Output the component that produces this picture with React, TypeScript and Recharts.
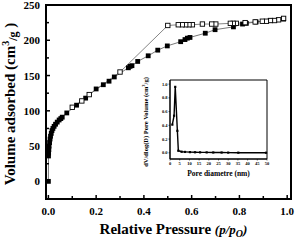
import { LineChart, Line, XAxis, YAxis, ReferenceArea } from 'recharts'

const FONT = '"Liberation Serif", "Times New Roman", serif'

// adsorption branch (filled squares)
const adsP = [0, 0.0005, 0.001, 0.002, 0.003, 0.005, 0.007, 0.009, 0.012, 0.015, 0.019, 0.024, 0.03, 0.037, 0.045, 0.052, 0.058, 0.077, 0.118, 0.156, 0.2, 0.23, 0.254, 0.276, 0.335, 0.342, 0.35, 0.374, 0.418, 0.458, 0.498, 0.554, 0.572, 0.582, 0.593, 0.657, 0.698, 0.775, 0.813, 0.829, 0.87, 0.93, 0.985]
const adsV = [0, 36, 40, 45, 50, 55, 60, 64, 68, 72, 75, 78, 81, 84, 87, 89, 91, 97, 108, 118, 131, 137, 142, 148, 161, 163, 164, 170, 178, 186, 192, 198, 201, 203, 204, 210, 215, 219, 223, 224, 226, 228, 230]

// desorption branch (open squares)
const desP = [0.985, 0.964, 0.947, 0.93, 0.913, 0.896, 0.866, 0.824, 0.787, 0.774, 0.762, 0.701, 0.684, 0.645, 0.603, 0.589, 0.575, 0.561, 0.544, 0.5, 0.3, 0.171, 0.14, 0.1]
const desV = [231, 229, 228, 228, 227, 227, 226, 225, 224, 224, 224, 223, 223, 223, 222, 222, 222, 222, 222, 221, 155, 123, 114, 105]

// inset: pore size distribution
const poreD = [1.2, 2.1, 2.7, 3.8, 4.3, 6, 7.7, 10.3, 12.9, 15.5, 18.9, 22.3, 26.6, 30, 35.2, 49.5]
const poreV = [0.41, 0.54, 0.96, 0.32, 0.03, 0.016, 0.013, 0.01, 0.008, 0.007, 0.006, 0.005, 0.004, 0.003, 0.002, 0.001]

const pressureTicks = [0, 0.1, 0.2, 0.3, 0.4, 0.5, 0.6, 0.7, 0.8, 0.9, 1.0]
const volumeTicks = [0, 25, 50, 75, 100, 125, 150, 175, 200, 225, 250]
const diameterTicks = [0, 5, 10, 15, 20, 25, 30, 35, 40, 45, 50]
const poreTicks = [0, 0.2, 0.4, 0.6, 0.8, 1.0]

const adsData = adsP.map((p, i) => ({ p, v: adsV[i] }))
const desData = desP.map((p, i) => ({ p, v: desV[i] }))
const poreData = poreD.map((d, i) => ({ d, v: poreV[i] }))

const PLOT_LEFT = 46
const PLOT_BOTTOM = 199

const FilledSquare = (props: any) => {
  const { cx, cy } = props
  return <rect x={cx - 2.4} y={cy - 2.4} width={4.8} height={4.8} fill="#000" />
}

const OpenSquare = (props: any) => {
  const { cx, cy } = props
  return <rect x={cx - 2.2} y={cy - 2.2} width={4.4} height={4.4} fill="#fff" stroke="#000" strokeWidth={0.9} />
}

const TinySquare = (props: any) => {
  const { cx, cy } = props
  return <rect x={cx - 1.1} y={cy - 1.1} width={2.2} height={2.2} fill="#000" />
}

const MainXTick = (props: any) => {
  const { x, y, payload } = props
  const v = payload.value
  const major = Math.round(v * 10) % 2 === 0
  return (
    <g>
      <line x1={x} x2={x} y1={PLOT_BOTTOM} y2={PLOT_BOTTOM - (major ? 4 : 3)} stroke="#000" strokeWidth={1.5} />
      {major && (
        <text x={x} y={y} dy={12} textAnchor="middle" fontFamily={FONT} fontWeight="bold" fontSize={11} fill="#000">
          {v.toFixed(1)}
        </text>
      )}
    </g>
  )
}

const MainYTick = (props: any) => {
  const { x, y, payload } = props
  const v = payload.value
  const major = v % 50 === 0
  return (
    <g>
      <line x1={PLOT_LEFT} x2={PLOT_LEFT + (major ? 4 : 3)} y1={y} y2={y} stroke="#000" strokeWidth={1.5} />
      {major && (
        <text x={x} y={y} dy={4} textAnchor="end" fontFamily={FONT} fontWeight="bold" fontSize={11} fill="#000">
          {v}
        </text>
      )}
    </g>
  )
}

const xTitle = (props: any) => {
  const vb = props.viewBox
  return (
    <text x={vb.x + vb.width / 2 + 5} y={vb.y + 35} textAnchor="middle" fontFamily={FONT} fontWeight="bold" fontSize={15} fill="#000">
      Relative Pressure{' '}
      <tspan fontStyle="italic" fontSize={13}>(p/p</tspan>
      <tspan fontStyle="italic" fontSize={10} dy={3}>O</tspan>
      <tspan fontStyle="italic" fontSize={13} dy={-3}>)</tspan>
    </text>
  )
}

const yTitle = () => (
  <text x={15} y={104} transform="rotate(-90 15 104)" textAnchor="middle" fontFamily={FONT} fontWeight="bold" fontSize={15} fill="#000">
    Volume adsorbed (cm
    <tspan fontSize={10} dy={-6}>3</tspan>
    <tspan fontSize={12} dy={8}>/g</tspan>
    <tspan dy={-2}> )</tspan>
  </text>
)

const insetXTitle = (props: any) => {
  const vb = props.viewBox
  return (
    <text x={vb.x + vb.width / 2} y={vb.y + 17} textAnchor="middle" fontFamily={FONT} fontWeight="bold" fontSize={7.5} fill="#000">
      Pore diametre (nm)
    </text>
  )
}

const insetYTitle = () => (
  <text x={8} y={47} transform="rotate(-90 8 47)" textAnchor="middle" fontFamily={FONT} fontWeight="bold" fontSize={6.5} fill="#000">
    dV/dlog(D) Pore Volume (cm
    <tspan fontSize={4.5} dy={-3}>3</tspan>
    <tspan dy={3}>/g)</tspan>
  </text>
)

const smallTick = { fontFamily: FONT, fontWeight: 'bold', fontSize: 4.5, fill: '#000' }

export default function App() {
  return (
    <div style={{ position: 'absolute', left: 0, top: 0, width: 295, height: 242, background: '#fff' }}>
      <LineChart width={295} height={242} margin={{ top: 5, right: 4, bottom: 0, left: 0 }}>
        <XAxis
          dataKey="p"
          type="number"
          domain={[-0.01, 1.016]}
          ticks={pressureTicks}
          interval={0}
          tick={<MainXTick />}
          tickSize={0}
          tickMargin={4}
          height={43}
          axisLine={{ stroke: '#000', strokeWidth: 2 }}
          tickLine={false}
          label={xTitle}
        />
        <YAxis
          dataKey="v"
          type="number"
          domain={[-25, 250]}
          ticks={volumeTicks}
          interval={0}
          tick={<MainYTick />}
          tickSize={0}
          tickMargin={6}
          width={46}
          axisLine={{ stroke: '#000', strokeWidth: 2 }}
          tickLine={false}
          label={yTitle}
        />
        <ReferenceArea x1={-0.01} x2={1.016} y1={-25} y2={250} fill="none" stroke="#000" strokeWidth={2} ifOverflow="visible" />
        <Line data={adsData} dataKey="v" type="linear" stroke="#555" strokeWidth={0.8} dot={<FilledSquare />} isAnimationActive={false} />
        <Line data={desData} dataKey="v" type="linear" stroke="#666" strokeWidth={0.8} dot={<OpenSquare />} isAnimationActive={false} />
      </LineChart>
      <div style={{ position: 'absolute', left: 140, top: 75 }}>
        <LineChart width={130} height={110} margin={{ top: 5, right: 3, bottom: 0, left: 0 }}>
          <XAxis
            dataKey="d"
            type="number"
            domain={[0, 50]}
            ticks={diameterTicks}
            interval={0}
            tick={smallTick}
            tickSize={1.5}
            tickMargin={1}
            height={26}
            axisLine={{ stroke: '#000', strokeWidth: 1 }}
            tickLine={{ stroke: '#000', strokeWidth: 0.6 }}
            label={insetXTitle}
          />
          <YAxis
            dataKey="v"
            type="number"
            domain={[-0.09, 1.06]}
            ticks={poreTicks}
            interval={0}
            tick={smallTick}
            tickFormatter={(v: number) => v.toFixed(1)}
            tickSize={1.5}
            tickMargin={1}
            width={30}
            axisLine={{ stroke: '#000', strokeWidth: 1 }}
            tickLine={{ stroke: '#000', strokeWidth: 0.6 }}
            label={insetYTitle}
          />
          <ReferenceArea x1={0} x2={50} y1={-0.09} y2={1.06} fill="none" stroke="#000" strokeWidth={1} ifOverflow="visible" />
          <Line data={poreData} dataKey="v" type="linear" stroke="#000" strokeWidth={1.4} dot={<TinySquare />} isAnimationActive={false} />
        </LineChart>
      </div>
    </div>
  )
}
